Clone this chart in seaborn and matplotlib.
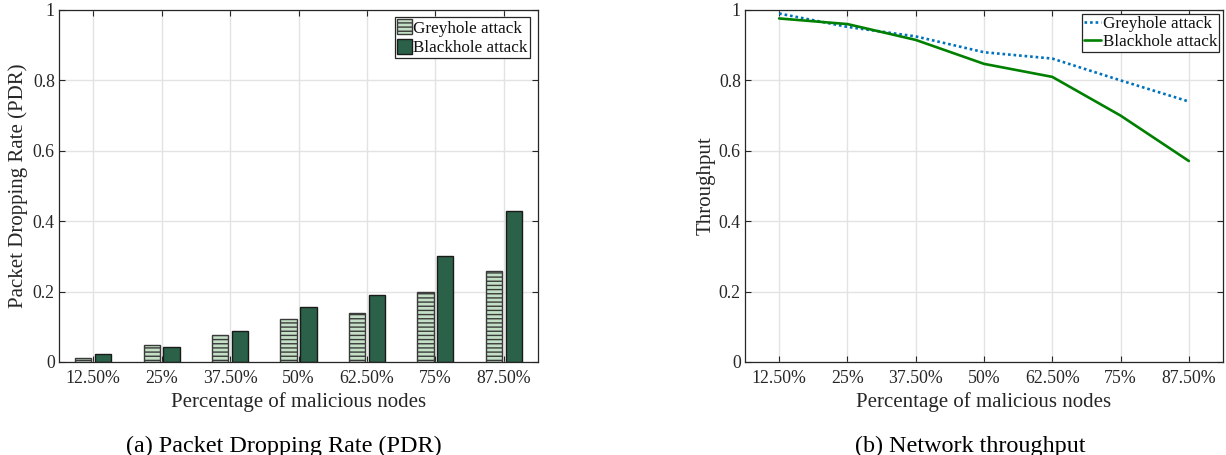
import numpy as np
import pandas as pd
import matplotlib
matplotlib.use('Agg')
import matplotlib.pyplot as plt
import seaborn as sns

# data
pct_labels = ['12.50%', '25%', '37.50%', '50%', '62.50%', '75%', '87.50%']
series_names = ['Greyhole attack', 'Blackhole attack']
pdr_grey = [0.012, 0.047, 0.078, 0.121, 0.139, 0.200, 0.259]
pdr_black = [0.024, 0.042, 0.087, 0.155, 0.190, 0.300, 0.430]
thr_grey = [0.990, 0.952, 0.925, 0.880, 0.862, 0.800, 0.740]
thr_black = [0.976, 0.960, 0.915, 0.847, 0.810, 0.700, 0.571]
y_ticks = [0, 0.2, 0.4, 0.6, 0.8, 1]
y_ticklabels = ['0', '0.2', '0.4', '0.6', '0.8', '1']

pdr_df = pd.DataFrame({
    'pct': pct_labels * 2,
    'attack': [series_names[0]] * 7 + [series_names[1]] * 7,
    'value': pdr_grey + pdr_black,
})
thr_df = pd.DataFrame({
    'pct': pct_labels * 2,
    'attack': [series_names[0]] * 7 + [series_names[1]] * 7,
    'value': thr_grey + thr_black,
})

sns.set_style('whitegrid', {'grid.color': '#e3e3e3', 'axes.edgecolor': '#262626'})
plt.rcParams['font.family'] = ['Liberation Serif', 'DejaVu Serif']
plt.rcParams['hatch.linewidth'] = 1.0

W, H = 1226, 455
fig = plt.figure(figsize=(W / 100, H / 100), dpi=100)
ax1 = fig.add_axes([59 / W, 1 - 362 / H, 479 / W, 352 / H])
ax2 = fig.add_axes([745 / W, 1 - 362 / H, 478 / W, 352 / H])

tick_fs = 12.8
label_fs = 15
txt_col = '#262626'

# (a) bars
bar_cols = ['#c3dfc5', '#2a6148']
sns.barplot(data=pdr_df, x='pct', y='value', hue='attack', order=pct_labels,
            hue_order=series_names, palette=bar_cols, width=0.58, gap=0.18,
            saturation=1, edgecolor='#1a1a1a', linewidth=1.0, ax=ax1, legend=False)
for bar in ax1.containers[0]:
    bar.set_hatch('----')
    bar.set_edgecolor('#3a3a3a')

# (b) lines
sns.lineplot(data=thr_df, x='pct', y='value', hue='attack', style='attack',
             hue_order=series_names, style_order=series_names,
             palette=['#0072BD', '#008000'],
             dashes={series_names[0]: (1, 1.1), series_names[1]: ''},
             linewidth=1.9, ax=ax2, legend=False)

for ax, ylab in [(ax1, 'Packet Dropping Rate (PDR)'), (ax2, 'Throughput')]:
    ax.set_xlim(-0.5, 6.5)
    ax.set_ylim(0, 1)
    ax.set_yticks(y_ticks)
    ax.set_yticklabels(y_ticklabels)
    ax.set_xticks(range(len(pct_labels)))
    ax.set_xticklabels(pct_labels)
    ax.tick_params(axis='both', direction='in', length=4, width=0.8, color='#262626',
                   labelsize=tick_fs, labelcolor=txt_col, top=True, right=True,
                   bottom=True, left=True)
    ax.tick_params(axis='x', pad=6)
    ax.tick_params(axis='y', pad=3)
    ax.grid(True, color='#e3e3e3', linewidth=1.0)
    ax.set_axisbelow(True)
    for s in ax.spines.values():
        s.set_visible(True)
        s.set_color('#262626')
        s.set_linewidth(0.9)
    ax.set_xlabel('Percentage of malicious nodes', fontsize=label_fs, color=txt_col)
    ax.xaxis.set_label_coords(0.5, -0.128)
    ax.xaxis.label.set_va('baseline')
    ax.set_ylabel(ylab, fontsize=label_fs, color=txt_col)

ax1.yaxis.set_label_coords(-0.086, 0.5)
ax2.yaxis.set_label_coords(-0.082, 0.5)
ax1.yaxis.label.set_va('center')
ax2.yaxis.label.set_va('center')

# legends
leg_kw = dict(fontsize=12.3, frameon=True, fancybox=False, framealpha=1,
              edgecolor='#262626', borderpad=0.12, labelspacing=0.12,
              handletextpad=0.1, borderaxespad=0)
h1 = [ax1.containers[0][0], ax1.containers[1][0]]
lg1 = ax1.legend(h1, series_names, loc='upper right', bbox_to_anchor=(0.983, 0.980),
                 handlelength=0.85, handleheight=1.0, **leg_kw)
lg2 = ax2.legend(ax2.get_lines()[:2], series_names, loc='upper right',
                 bbox_to_anchor=(0.9916, 0.9886), handlelength=1.0, **leg_kw)
for lg in (lg1, lg2):
    lg.get_frame().set_linewidth(0.9)
    for t in lg.get_texts():
        t.set_color('#111111')

# captions
fig.text(284 / W, 3 / H, '(a) Packet Dropping Rate (PDR)', fontsize=17.4,
         ha='center', va='baseline', color='black')
fig.text(970 / W, 3 / H, '(b) Network throughput', fontsize=17.4,
         ha='center', va='baseline', color='black')

fig.savefig('out.png', dpi=100)
